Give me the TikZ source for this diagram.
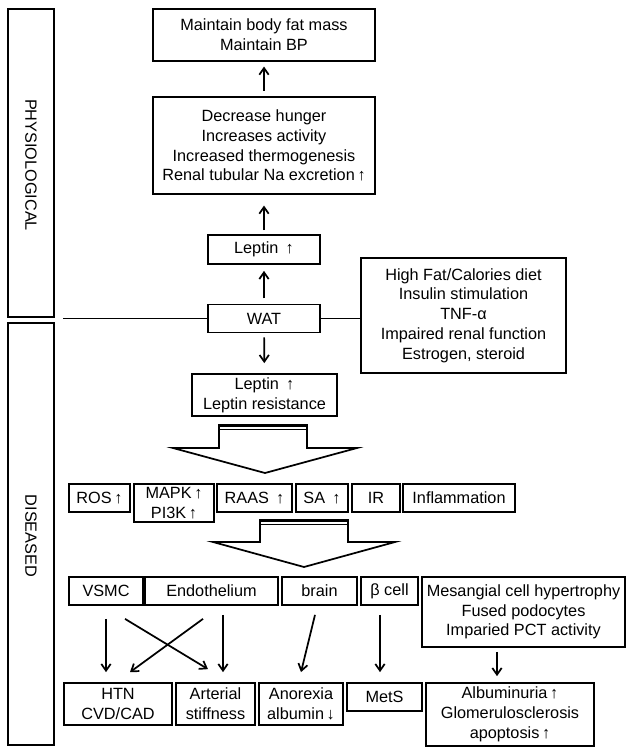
\documentclass[tikz,border=0pt]{standalone}
\usepackage{fontspec}
\setmainfont{Liberation Sans}
\usepackage{tikz}
\usetikzlibrary{arrows.meta}

\begin{document}
\begin{tikzpicture}[x=0.75pt, y=-0.75pt,
    txt/.style={inner sep=0pt, align=center, font=\fontsize{12.2}{14.8}\selectfont},
    box/.style={txt, draw, line width=1.3pt},
    wh/.style 2 args={minimum width=#1*0.75pt, minimum height=#2*0.75pt},
    arr/.style={-{Straight Barb[length=5pt,width=7pt]}, line width=1.3pt},
    fat/.style={draw, line width=1.3pt, line join=miter}]
  \useasboundingbox (0,0) rectangle (626,747);

  % Side panels
  \node[box, wh={46.5}{308}] (phys) at (31,163) {};
  \node[txt, rotate=-90] (physlab) at (31,165) {PHYSIOLOGICAL};
  \node[box, wh={46.5}{422}] (dis) at (31,534) {};
  \node[txt, rotate=-90] (dislab) at (31,536) {DISEASED};

  % Physiological branch
  \node[box, wh={222}{52}] (keep) at (264,35) {Maintain body fat mass\\Maintain BP};
  \node[box, wh={222}{97}] (effects) at (264,145.5) {Decrease hunger\\Increases activity\\Increased thermogenesis\\Renal tubular Na excretion\,↑};
  \node[box, wh={112}{29}] (leptin) at (264,249.5) {Leptin \,↑};
  \node[box, wh={112}{28}] (wat) at (264,318.5) {WAT};
  \node[box, wh={205}{115}] (factors) at (463.5,315.5) {High Fat/Calories diet\\Insulin stimulation\\TNF-α\\Impaired renal function\\Estrogen, steroid};
  \node[box, wh={145}{42}] (resist) at (264.5,395) {Leptin \,↑\\Leptin resistance};

  \coordinate (split) at (63,318.5);
  \draw[line width=1.3pt] (split) -- (wat.west);
  \draw[line width=1.3pt] (wat.east) -- (wat.east -| factors.west);

  \draw[arr, shorten <=4pt, shorten >=3.5pt] (effects) -- (keep);
  \draw[arr, shorten <=3pt, shorten >=8pt] (leptin) -- (effects);
  \draw[arr, shorten <=4pt, shorten >=4.5pt] (wat) -- (leptin);
  \draw[arr, shorten <=3pt, shorten >=7.5pt] (wat) -- (resist);

  % Block arrows
  \draw[fat] (219,424) -- (219,448) -- (173,448) -- (265,473) -- (357,448) -- (307,448) -- (307,424);
  \draw[line width=2.3pt] (219,425.5) -- (307,425.5);
  \draw[line width=1.1pt] (219,429.5) -- (307,429.5);

  \draw[fat] (260,519) -- (260,542) -- (213,542) -- (304,567) -- (395,542) -- (348,542) -- (348,519);
  \draw[line width=2.3pt] (260,520.5) -- (348,520.5);
  \draw[line width=1.1pt] (260,524.5) -- (348,524.5);

  % Mediators
  \foreach \nm/\cx/\w/\lab in {ros/99.5/61/ROS\,↑, raas/254.5/75/RAAS \,↑,
      sa/322/52/SA \,↑, ir/376/48/IR, infl/459/112/Inflammation}
    \node[box, wh={\w}{28}] (\nm) at (\cx,498) {\lab};
  \node[box, wh={80}{38}] (mapk) at (174,503) {MAPK\,↑\\PI3K\,↑};

  % Targets
  \foreach \nm/\cx/\w/\lab in {vsmc/106/74/VSMC, endo/211.5/133/Endothelium,
      brain/319.5/75/brain, beta/389.5/57/β cell}
    \node[box, wh={\w}{28}] (\nm) at (\cx,591) {\lab};
  \node[box, wh={203}{70}] (mesang) at (523.5,612) {Mesangial cell hypertrophy\\Fused podocytes\\Imparied PCT activity};

  % Outcomes
  \node[box, wh={108}{42}] (htn) at (118,704) {HTN\\CVD/CAD};
  \node[box, wh={79}{42}] (art) at (215.5,704) {Arterial\\stiffness};
  \node[box, wh={84}{42}] (anor) at (301,704) {Anorexia\\albumin\,↓};
  \node[box, wh={75}{28}] (mets) at (384.5,697) {MetS};
  \node[box, wh={168}{63}] (album) at (510,714.5) {Albuminuria\,↑\\Glomerulosclerosis\\apoptosis\,↑};

  \draw[arr] ([shift={(0,13)}]vsmc.south) -- ([shift={(-12,-10)}]htn.north);
  \draw[arr] ([shift={(19,13)}]vsmc.south) -- ([shift={(-7.5,-13)}]art.north);
  \draw[arr] ([shift={(-8.5,13)}]endo.south) -- ([shift={(12,-10)}]htn.north);
  \draw[arr] ([shift={(11.5,9)}]endo.south) -- ([shift={(7.5,-10)}]art.north);
  \draw[arr] ([shift={(-4.5,9)}]brain.south) -- ([shift={(0,-10)}]anor.north);
  \draw[arr] ([shift={(-9.5,9)}]beta.south) -- ([shift={(-4.5,-10)}]mets.north);
  \draw[arr] ([shift={(-26.5,4)}]mesang.south) -- ([shift={(-13,-6)}]album.north);

\end{tikzpicture}
\end{document}
